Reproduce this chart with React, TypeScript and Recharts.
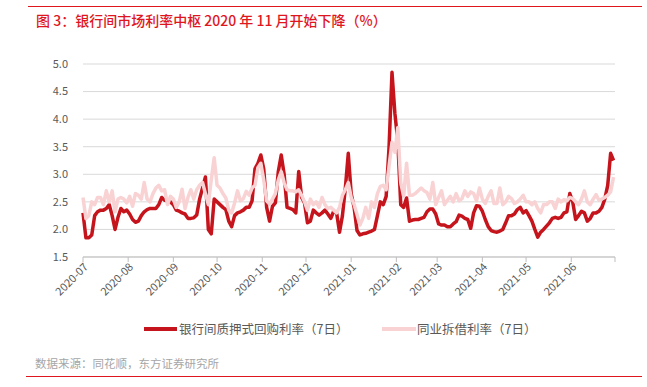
import React from "react";
import { LineChart, Line, XAxis, YAxis, CartesianGrid } from "recharts";

const dates = [
  "2020-07-01", "2020-07-03", "2020-07-05", "2020-07-07", "2020-07-09", "2020-07-11", "2020-07-13", "2020-07-15",
  "2020-07-17", "2020-07-19", "2020-07-21", "2020-07-23", "2020-07-25", "2020-07-27", "2020-07-29", "2020-07-31",
  "2020-08-02", "2020-08-04", "2020-08-06", "2020-08-08", "2020-08-10", "2020-08-12", "2020-08-14", "2020-08-16",
  "2020-08-18", "2020-08-20", "2020-08-22", "2020-08-24", "2020-08-26", "2020-08-28", "2020-08-30",
  "2020-09-01", "2020-09-03", "2020-09-05", "2020-09-07", "2020-09-09", "2020-09-11", "2020-09-13", "2020-09-15",
  "2020-09-17", "2020-09-19", "2020-09-21", "2020-09-23", "2020-09-25", "2020-09-27", "2020-09-29",
  "2020-10-01", "2020-10-03", "2020-10-05", "2020-10-07", "2020-10-09", "2020-10-11", "2020-10-13", "2020-10-15",
  "2020-10-17", "2020-10-19", "2020-10-21", "2020-10-23", "2020-10-25", "2020-10-27", "2020-10-29", "2020-10-31",
  "2020-11-02", "2020-11-04", "2020-11-06", "2020-11-08", "2020-11-10", "2020-11-12", "2020-11-14", "2020-11-16",
  "2020-11-18", "2020-11-20", "2020-11-22", "2020-11-24", "2020-11-26", "2020-11-28", "2020-11-30",
  "2020-12-02", "2020-12-04", "2020-12-06", "2020-12-08", "2020-12-10", "2020-12-12", "2020-12-14", "2020-12-16",
  "2020-12-18", "2020-12-20", "2020-12-22", "2020-12-24", "2020-12-26", "2020-12-28", "2020-12-30",
  "2021-01-01", "2021-01-03", "2021-01-05", "2021-01-07", "2021-01-09", "2021-01-11", "2021-01-13", "2021-01-15",
  "2021-01-17", "2021-01-19", "2021-01-21", "2021-01-23", "2021-01-25", "2021-01-27", "2021-01-29", "2021-01-31",
  "2021-02-02", "2021-02-04", "2021-02-06", "2021-02-08", "2021-02-10", "2021-02-12", "2021-02-14", "2021-02-16",
  "2021-02-18", "2021-02-20", "2021-02-22", "2021-02-24", "2021-02-26", "2021-02-28",
  "2021-03-02", "2021-03-04", "2021-03-06", "2021-03-08", "2021-03-10", "2021-03-12", "2021-03-14", "2021-03-16",
  "2021-03-18", "2021-03-20", "2021-03-22", "2021-03-24", "2021-03-26", "2021-03-28", "2021-03-30",
  "2021-04-01", "2021-04-03", "2021-04-05", "2021-04-07", "2021-04-09", "2021-04-11", "2021-04-13", "2021-04-15",
  "2021-04-17", "2021-04-19", "2021-04-21", "2021-04-23", "2021-04-25", "2021-04-27", "2021-04-29",
  "2021-05-01", "2021-05-03", "2021-05-05", "2021-05-07", "2021-05-09", "2021-05-11", "2021-05-13", "2021-05-15",
  "2021-05-17", "2021-05-19", "2021-05-21", "2021-05-23", "2021-05-25", "2021-05-27", "2021-05-29", "2021-05-31",
  "2021-06-02", "2021-06-04", "2021-06-06", "2021-06-08", "2021-06-10", "2021-06-12", "2021-06-14", "2021-06-16",
  "2021-06-18", "2021-06-20", "2021-06-22", "2021-06-24", "2021-06-26", "2021-06-28", "2021-06-30",
];

// 银行间质押式回购利率（7日）
const repo = [
  2.30, 1.85, 1.85, 1.90, 2.25, 2.32, 2.35, 2.35, 2.38, 2.45, 2.25, 2.00, 2.22, 2.38, 2.32, 2.35,
  2.28, 2.18, 2.13, 2.15, 2.25, 2.32, 2.36, 2.38, 2.38, 2.38, 2.45, 2.58, 2.53, 2.52, 2.50,
  2.45, 2.35, 2.33, 2.30, 2.28, 2.20, 2.20, 2.21, 2.26, 2.55, 2.75, 2.95, 2.00, 1.92, 2.55,
  2.50, 2.45, 2.40, 2.36, 2.15, 2.05, 2.25, 2.30, 2.32, 2.35, 2.40, 2.40, 2.52, 3.10, 3.20, 3.35,
  3.10, 2.40, 2.15, 2.42, 2.48, 3.05, 3.35, 3.00, 2.40, 2.38, 2.36, 2.30, 3.05, 2.58, 2.48,
  2.12, 2.15, 2.35, 2.30, 2.26, 2.30, 2.35, 2.28, 2.20, 2.33, 2.30, 1.95, 2.25, 2.75, 3.38,
  2.65, 2.40, 1.98, 1.90, 1.92, 1.93, 1.95, 1.97, 2.00, 2.25, 2.50, 2.45, 2.60, 3.50, 4.85, 4.10,
  3.60, 2.45, 2.40, 2.57, 2.15, 2.17, 2.18, 2.18, 2.20, 2.22, 2.32, 2.37, 2.37, 2.28,
  2.10, 2.08, 2.08, 2.05, 2.05, 2.10, 2.14, 2.26, 2.24, 2.20, 2.18, 2.02, 2.30, 2.43, 2.42,
  2.33, 2.18, 2.05, 1.98, 1.96, 1.95, 1.97, 2.00, 2.12, 2.25, 2.25, 2.28, 2.36, 2.40, 2.30,
  2.34, 2.25, 2.15, 2.00, 1.86, 1.95, 2.00, 2.06, 2.12, 2.20, 2.22, 2.20, 2.22, 2.30, 2.32, 2.65,
  2.50, 2.18, 2.25, 2.33, 2.30, 2.15, 2.20, 2.30, 2.30, 2.33, 2.40, 2.55, 2.80, 3.38, 3.25,
];

// 同业拆借利率（7日）
const ibor = [
  2.58, 2.20, 2.25, 2.50, 2.45, 2.58, 2.58, 2.45, 2.70, 2.50, 2.70, 2.32, 2.55, 2.58, 2.55, 2.48,
  2.60, 2.42, 2.65, 2.62, 2.55, 2.85, 2.55, 2.50, 2.65, 2.75, 2.80, 2.70, 2.72, 2.45, 2.60,
  2.55, 2.40, 2.50, 2.73, 2.38, 2.58, 2.72, 2.55, 2.72, 2.80, 2.85, 2.65, 2.45, 2.90, 3.30,
  2.80, 2.75, 2.65, 2.57, 2.35, 2.30, 2.48, 2.70, 2.52, 2.56, 2.69, 2.62, 2.75, 2.80, 3.12, 3.20,
  2.90, 2.52, 2.46, 2.55, 2.65, 2.90, 3.05, 2.85, 2.72, 2.70, 2.70, 2.68, 2.72, 2.62, 2.50,
  2.35, 2.55, 2.45, 2.50, 2.40, 2.58, 2.45, 2.38, 2.40, 2.35, 2.30, 2.40, 2.62, 2.72, 2.85,
  2.58, 2.45, 2.27, 2.08, 2.20, 2.40, 2.20, 2.50, 2.40, 2.65, 2.78, 2.80, 2.72, 3.15, 3.58, 3.40,
  3.85, 2.85, 2.60, 3.20, 2.62, 2.62, 2.65, 2.70, 2.75, 2.70, 2.67, 2.55, 2.85, 2.45,
  2.58, 2.70, 2.45, 2.53, 2.60, 2.50, 2.65, 2.52, 2.56, 2.70, 2.60, 2.68, 2.65, 2.52, 2.75,
  2.55, 2.47, 2.60, 2.70, 2.47, 2.47, 2.75, 2.45, 2.50, 2.60, 2.56, 2.47, 2.50, 2.55, 2.62,
  2.50, 2.50, 2.45, 2.50, 2.38, 2.30, 2.45, 2.45, 2.50, 2.50, 2.38, 2.55, 2.50, 2.54, 2.52, 2.58,
  2.56, 2.50, 2.45, 2.55, 2.70, 2.50, 2.45, 2.55, 2.63, 2.53, 2.55, 2.58, 2.62, 2.68, 2.95,
];

const monthTicks = [
  "2020-07-01", "2020-08-01", "2020-09-01", "2020-10-01", "2020-11-01", "2020-12-01",
  "2021-01-01", "2021-02-01", "2021-03-01", "2021-04-01", "2021-05-01", "2021-06-01", "2021-07-01",
];
const monthLabels = [
  "2020-07", "2020-08", "2020-09", "2020-10", "2020-11", "2020-12",
  "2021-01", "2021-02", "2021-03", "2021-04", "2021-05", "2021-06", "",
];
const yTicks = [1.5, 2.0, 2.5, 3.0, 3.5, 4.0, 4.5, 5.0];

const seriesNames = ["银行间质押式回购利率（7日）", "同业拆借利率（7日）"];
const RED = "#c5141c";
const PINK = "#f9d2d4";
const FONT = '"Noto Sans CJK SC", "Noto Sans", sans-serif';

const data = dates.map((d, i) => ({ t: Date.parse(d), repo: repo[i], ibor: ibor[i] }));
const tickTimes = monthTicks.map((d) => Date.parse(d));

const MonthTick = (props: any) => {
  const { x, y, payload } = props;
  const idx = tickTimes.indexOf(payload.value);
  const label = idx >= 0 ? monthLabels[idx] : "";
  return (
    <g transform={`translate(${x + 3},${y + 1})`}>
      <text
        textAnchor="end"
        dy="0.35em"
        transform="rotate(-45)"
        fill="#595959"
        fontSize={11}
        fontFamily={FONT}
      >
        {label}
      </text>
    </g>
  );
};

export default function App() {
  return (
    <div style={{ position: "relative", width: 647, height: 387, background: "#fff", fontFamily: FONT }}>
      <style>{"body{margin:0}"}</style>
      <div style={{ position: "absolute", left: 28, top: 6, width: 614, height: 1, background: "#e0161e" }} />
      <div
        style={{
          position: "absolute",
          left: 36,
          top: 10,
          fontSize: 14,
          lineHeight: "20px",
          color: "#e0161e",
          fontWeight: 500,
          whiteSpace: "nowrap",
        }}
      >
        图 3：银行间市场利率中枢 2020 年 11 月开始下降（%）
      </div>

      <div style={{ position: "absolute", left: 0, top: 0 }}>
        <LineChart width={647} height={387} data={data} margin={{ top: 64, right: 32, left: 43, bottom: 90 }}>
          <CartesianGrid vertical={false} stroke="#d9d9d9" />
          <XAxis
            dataKey="t"
            type="number"
            scale="time"
            domain={[tickTimes[0], tickTimes[tickTimes.length - 1]]}
            ticks={tickTimes}
            height={40}
            stroke="#bfbfbf"
            tickSize={5}
            tick={<MonthTick />}
            interval={0}
          />
          <YAxis
            domain={[1.5, 5]}
            ticks={yTicks}
            width={40}
            axisLine={false}
            tickLine={false}
            tickMargin={9}
            tickFormatter={(v) => Number(v).toFixed(1)}
            tick={{ fill: "#595959", fontSize: 11, fontFamily: FONT }}
          />
          <Line
            dataKey="repo"
            stroke={RED}
            strokeWidth={3.5}
            dot={false}
            isAnimationActive={false}
            strokeLinejoin="round"
          />
          <Line
            dataKey="ibor"
            stroke={PINK}
            strokeWidth={3.5}
            dot={false}
            isAnimationActive={false}
            strokeLinejoin="round"
          />
        </LineChart>
      </div>

      <div style={{ position: "absolute", left: 144, top: 327, width: 33, height: 4, background: RED }} />
      <div style={{ position: "absolute", left: 179, top: 319, fontSize: 12.5, lineHeight: "20px", color: "#595959", whiteSpace: "nowrap" }}>
        {seriesNames[0]}
      </div>
      <div style={{ position: "absolute", left: 382, top: 327, width: 34, height: 4, background: PINK }} />
      <div style={{ position: "absolute", left: 417, top: 319, fontSize: 12.5, lineHeight: "20px", color: "#595959", whiteSpace: "nowrap" }}>
        {seriesNames[1]}
      </div>

      <div style={{ position: "absolute", left: 35, top: 354, fontSize: 11.5, lineHeight: "18px", color: "#a6a6a6", whiteSpace: "nowrap" }}>
        数据来源：同花顺，东方证券研究所
      </div>
      <div style={{ position: "absolute", left: 26, top: 376, width: 616, height: 1, background: "#e0161e" }} />
    </div>
  );
}
